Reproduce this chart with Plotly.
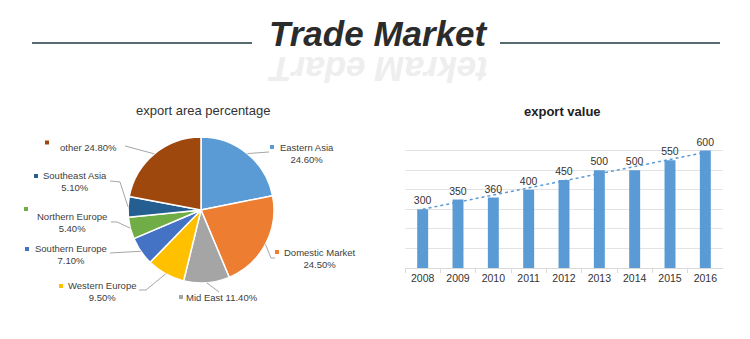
import math
import plotly.graph_objects as go

W, H = 750, 339

# ---------------- data ----------------
pie_labels = ["Eastern Asia", "Domestic Market", "Mid East", "Western Europe",
              "Southern Europe", "Northern Europe", "Southeast Asia", "other"]
pie_values = [24.60, 24.50, 11.40, 9.50, 7.10, 5.40, 5.10, 24.80]
pie_colors = ["#5B9BD5", "#ED7D31", "#A5A5A5", "#FFC000",
              "#4472C4", "#70AD47", "#255E91", "#9E480E"]

years = ["2008", "2009", "2010", "2011", "2012", "2013", "2014", "2015", "2016"]
export_values = [300, 350, 360, 400, 450, 500, 500, 550, 600]


def X(px):
    return px / W


def Y(py):
    return 1 - py / H


fig = go.Figure()

# ---------------- pie ----------------
cx, cy, r = 201, 210, 73
fig.add_trace(go.Pie(
    labels=pie_labels, values=pie_values, sort=False, direction="clockwise",
    rotation=0, marker=dict(colors=pie_colors, line=dict(color="white", width=1.5)),
    textinfo="none", showlegend=False, hoverinfo="label+percent",
    domain=dict(x=[X(cx - r), X(cx + r)], y=[Y(cy + r), Y(cy - r)]),
))

# label layout: (text center x, center y, marker x, marker y, leader path points)
label_layout = {
    "Eastern Asia": (307, 153.5, 272, 147, [(269, 152)]),
    "Domestic Market": (320, 258.5, 277, 252, [(271, 258), (275, 258)]),
    "Mid East": (222, 297, 181, 297, [(219, 292)]),
    "Western Europe": (102, 291.5, 61, 286, [(146, 290), (139, 290)]),
    "Southern Europe": (71, 254.5, 27, 249, [(110, 253)]),
    "Northern Europe": (72, 222, 26, 209, [(117, 222), (111, 222)]),
    "Southeast Asia": (75, 181.5, 36, 176, [(120, 182), (110, 181)]),
    "other": (88.5, 147, 47, 142.5, [(125, 146)]),
}

total = sum(pie_values)
cum = 0.0
shapes = []
annotations = []
lbl_font = dict(family="Liberation Sans, Arial, sans-serif", size=9.5, color="#404040")
for name, val, col in zip(pie_labels, pie_values, pie_colors):
    mid = (cum + val / 2) / total * 2 * math.pi
    cum += val
    ex = cx + r * math.sin(mid)
    ey = cy - r * math.cos(mid)
    tx, ty, mx, my, pts = label_layout[name]
    path = "M %f,%f " % (X(ex), Y(ey)) + " ".join("L %f,%f" % (X(a), Y(b)) for a, b in pts)
    shapes.append(dict(type="path", xref="paper", yref="paper", path=path,
                       line=dict(color="#A6A6A6", width=1)))
    shapes.append(dict(type="rect", xref="paper", yref="paper",
                       x0=X(mx - 2), x1=X(mx + 2), y0=Y(my + 2), y1=Y(my - 2),
                       fillcolor=col, line=dict(width=0)))
    if name in ("Mid East", "other"):
        text = "%s %.2f%%" % (name, val)
    else:
        text = "%s<br>%.2f%%" % (name, val)
    annotations.append(dict(xref="paper", yref="paper", x=X(tx), y=Y(ty), text=text,
                            showarrow=False, xanchor="center", yanchor="middle",
                            align="center", font=lbl_font))

# ---------------- bars ----------------
fig.add_trace(go.Bar(
    x=years, y=export_values, marker=dict(color="#5B9BD5", line=dict(width=0)),
    width=0.31, text=[str(v) for v in export_values], textposition="outside",
    constraintext="none",
    textfont=dict(family="Liberation Sans, Arial, sans-serif", size=10.5, color="#333333"),
    cliponaxis=False, showlegend=False, xaxis="x", yaxis="y",
))

# linear trend line (least squares) derived from the data
n = len(export_values)
xs = list(range(n))
mx_ = sum(xs) / n
my_ = sum(export_values) / n
slope = sum((a - mx_) * (b - my_) for a, b in zip(xs, export_values)) / sum((a - mx_) ** 2 for a in xs)
icpt = my_ - slope * mx_
trend = [icpt + slope * a for a in xs]
fig.add_trace(go.Scatter(
    x=years, y=trend, mode="lines", line=dict(color="#5B9BD5", width=1.5, dash="dot"),
    showlegend=False, hoverinfo="skip", xaxis="x", yaxis="y",
))

# ---------------- titles / decorations ----------------
annotations += [
    dict(xref="paper", yref="paper", x=X(378), y=Y(34), text="<b><i>Trade Market</i></b>",
         showarrow=False, xanchor="center", yanchor="middle",
         font=dict(family="Liberation Sans, Arial, sans-serif", size=35, color="#2B2B2B")),
    dict(xref="paper", yref="paper", x=X(378), y=Y(70), text="<b><i>tekraM edarT</i></b>",
         textangle=180, showarrow=False, xanchor="center", yanchor="middle",
         font=dict(family="Liberation Sans, Arial, sans-serif", size=35, color="#EEEEEE")),
    dict(xref="paper", yref="paper", x=X(203), y=Y(110), text="export area percentage",
         showarrow=False, xanchor="center", yanchor="middle",
         font=dict(family="Liberation Sans, Arial, sans-serif", size=13, color="#333333")),
    dict(xref="paper", yref="paper", x=X(562), y=Y(111), text="<b>export value</b>",
         showarrow=False, xanchor="center", yanchor="middle",
         font=dict(family="Liberation Sans, Arial, sans-serif", size=13, color="#222222")),
]
shapes += [
    dict(type="line", xref="paper", yref="paper", x0=X(32), x1=X(252), y0=Y(43), y1=Y(43),
         line=dict(color="#1F3B40", width=1.5)),
    dict(type="line", xref="paper", yref="paper", x0=X(500), x1=X(720), y0=Y(43), y1=Y(43),
         line=dict(color="#1F3B40", width=1.5)),
]

fig.update_layout(
    width=W, height=H, margin=dict(l=0, r=0, t=0, b=0),
    paper_bgcolor="white", plot_bgcolor="white",
    shapes=shapes, annotations=annotations, bargap=0.69,
    xaxis=dict(domain=[X(405), X(723)], type="category", range=[-0.5, 8.5],
               showline=True, linecolor="#D9D9D9", linewidth=1,
               ticks="outside", tickson="boundaries", ticklen=4, tickcolor="#D9D9D9",
               showgrid=False, fixedrange=True,
               tickfont=dict(family="Liberation Sans, Arial, sans-serif", size=10.5, color="#333333")),
    yaxis=dict(domain=[Y(268), Y(131)], range=[0, 700], dtick=100, showticklabels=False,
               showgrid=True, gridcolor="#E3E3E3", gridwidth=1, zeroline=False, fixedrange=True),
)

fig.write_html("out.html")
